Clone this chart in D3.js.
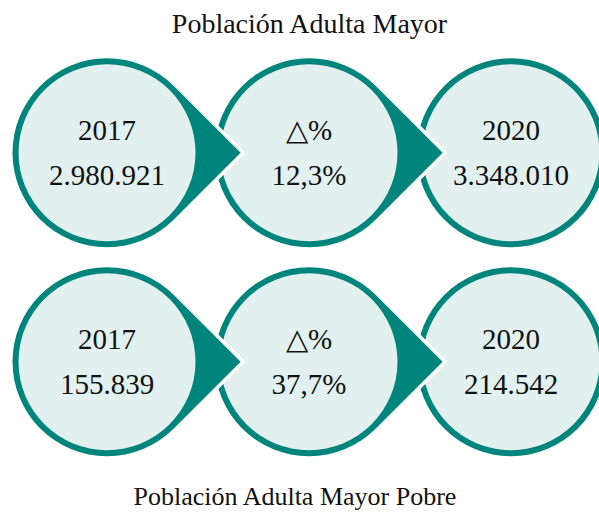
<!DOCTYPE html>
<html><head><meta charset="utf-8">
<script src="https://cdn.jsdelivr.net/npm/d3@7"></script>
<style>html,body{margin:0;padding:0;background:#fff;overflow:hidden}</style>
</head><body>
<svg id="chart" width="599" height="512"></svg>
<script>
const groups = ["Población Adulta Mayor", "Población Adulta Mayor Pobre"];
const stages = ["2017", "△%", "2020"];
const pop2017 = [2980921, 155839];
const pop2020 = [3348010, 214542];
const changePct = [12.3, 37.7];

const loc = d3.formatLocale({decimal: ",", thousands: ".", grouping: [3], currency: ["$", ""]});
const fmtInt = loc.format(",d");
const fmtPct = v => loc.format(".1f")(v) + "%";

const teal = "#00857d", light = "#e2f0ef";
const R = 94.5, ring = 6;
const svg = d3.select("#chart");
const x = d3.scalePoint().domain(stages).range([107, 511]);
const y = d3.scalePoint().domain(groups).range([152.7, 361.7]);

function tear(cx, cy, r, arrow) {
  if (!arrow) return `M${cx - r},${cy}A${r},${r} 0 1 0 ${cx + r},${cy}A${r},${r} 0 1 0 ${cx - r},${cy}Z`;
  const k = r / Math.SQRT2;
  return `M${cx + r * Math.SQRT2},${cy}L${cx + k},${cy - k}A${r},${r} 0 1 0 ${cx + k},${cy + k}Z`;
}

groups.forEach((g, gi) => {
  const labels = [fmtInt(pop2017[gi]), fmtPct(changePct[gi]), fmtInt(pop2020[gi])];
  // draw right-to-left so each arrow tip sits on top of the next circle
  stages.slice().reverse().forEach(s => {
    const si = stages.indexOf(s);
    const cx = x(s), cy = y(g);
    const grp = svg.append("g");
    grp.append("path").attr("d", tear(cx, cy, R, si < stages.length - 1))
      .attr("fill", teal).attr("stroke", "#fff").attr("stroke-width", 7)
      .attr("stroke-linejoin", "miter").style("paint-order", "stroke");
    grp.append("circle").attr("cx", cx).attr("cy", cy).attr("r", R - ring).attr("fill", light);
    grp.append("text").attr("x", cx).attr("y", cy - 12.5).attr("text-anchor", "middle")
      .attr("font-family", "Liberation Serif, serif").attr("font-size", 29).attr("fill", "#111").text(s);
    grp.append("text").attr("x", cx).attr("y", cy + 32.5).attr("text-anchor", "middle")
      .attr("font-family", "Liberation Serif, serif").attr("font-size", 29).attr("fill", "#111").text(labels[si]);
  });
});

svg.append("text").attr("x", 309.5).attr("y", 33).attr("text-anchor", "middle")
  .attr("font-family", "Liberation Serif, serif").attr("font-size", 28).attr("fill", "#111").text(groups[0]);
svg.append("text").attr("x", 295).attr("y", 505).attr("text-anchor", "middle")
  .attr("font-family", "Liberation Serif, serif").attr("font-size", 26).attr("fill", "#111").text(groups[1]);
</script>
</body></html>
